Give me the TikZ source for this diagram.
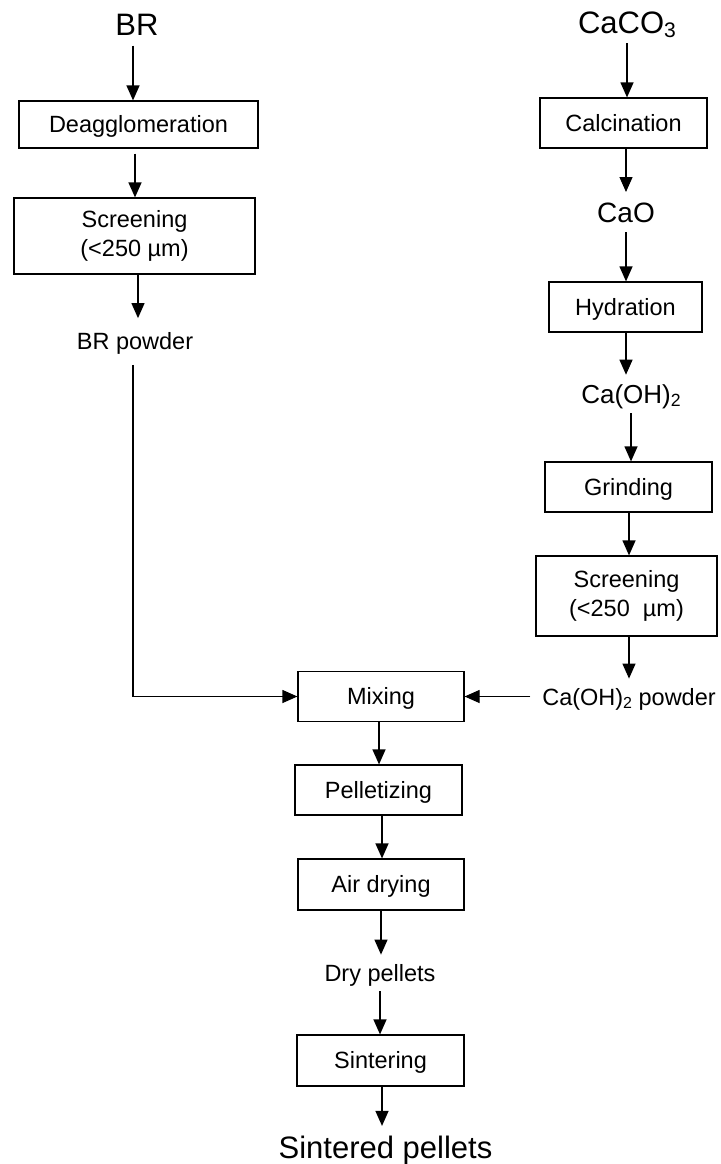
\documentclass[tikz,border=0pt]{standalone}
\usepackage{fontspec}
\setmainfont{Liberation Sans}
\usepackage{graphicx}
\usetikzlibrary{arrows.meta}
\newcommand\chemsub[1]{\raisebox{-0.13em}{\scalebox{0.68}{#1}}}
\tikzset{
  box/.style={draw, line width=1.2pt, inner sep=0pt, align=center,
    font=\fontsize{23.5}{28.5}\selectfont},
  onel/.style={text height=16.8pt, text depth=0pt},
  lbl/.style={inner sep=0pt, text height=16.8pt, text depth=0pt,
    outer ysep=10pt, font=\fontsize{23.5}{28}\selectfont},
  biglbl/.style={lbl, text height=22.2pt, font=\fontsize{31}{36}\selectfont},
  arr/.style={-{Triangle[width=13pt,length=15pt]}, line width=1.2pt},
}
\begin{document}
\begin{tikzpicture}[x=1pt,y=-1pt]
\useasboundingbox (0,0) rectangle (720,1164);
% left column
\node[biglbl] (br) at (137,24.5) {BR};
\node[box,onel,minimum width=239pt,minimum height=47pt] (deagg) at (138.5,124.5) {Deagglomeration};
\node[box,minimum width=241pt,minimum height=76pt] (scr1) at (134.5,236) {Screening\\(<250 µm)};
\node[lbl,outer ysep=15pt] (brp) at (135,341.5) {BR powder};
% right column
\node[biglbl] (caco3) at (627,22) {CaCO\chemsub{3}};
\node[box,onel,minimum width=167pt,minimum height=50pt] (calc) at (623.5,123) {Calcination};
\node[lbl,text height=20pt,font=\fontsize{28}{32}\selectfont] (cao) at (626,212) {CaO};
\node[box,onel,minimum width=153pt,minimum height=50pt] (hyd) at (625.5,307) {Hydration};
\node[lbl,text height=18.6pt,font=\fontsize{26}{30}\selectfont] (caoh) at (631,394) {Ca(OH)\chemsub{2}};
\node[box,onel,minimum width=167pt,minimum height=50pt] (grind) at (628.5,487) {Grinding};
\node[box,minimum width=181pt,minimum height=80pt] (scr2) at (626.5,596) {Screening\\(<250\ \ µm)};
\node[lbl,outer xsep=12pt] (caohp) at (629,697) {Ca(OH)\chemsub{2} powder};
% middle column
\node[box,onel,minimum width=166pt,minimum height=50pt] (mix) at (381,696.5) {Mixing};
\node[box,onel,minimum width=167pt,minimum height=50pt] (pell) at (378.5,790) {Pelletizing};
\node[box,onel,minimum width=166pt,minimum height=51pt] (dry) at (381,884.5) {Air drying};
\node[lbl] (dryp) at (380,973) {Dry pellets};
\node[box,onel,minimum width=167pt,minimum height=51pt] (sint) at (380.5,1060.5) {Sintering};
\node[biglbl] (sintp) at (385.5,1147) {Sintered pellets};
% connectors
\draw[arr] ([xshift=-4pt]br.south) -- ([xshift=-4pt]br.south |- deagg.north);
\draw[arr] ([xshift=-3.5pt,yshift=-5pt]deagg.south) -- ([xshift=-3.5pt]deagg.south |- scr1.north);
\draw[arr] ([xshift=3.5pt]scr1.south) -- ([xshift=3.5pt]scr1.south |- brp.north);
\draw[arr] ([xshift=-2pt]brp.south) |- (mix.west);
\draw[arr] (caco3.south) -- (caco3.south |- calc.north);
\draw[arr] ([xshift=2.5pt]calc.south) -- ([xshift=2.5pt]calc.south |- cao.north);
\draw[arr] (cao.south) -- (cao.south |- hyd.north);
\draw[arr] ([xshift=0.5pt]hyd.south) -- ([xshift=0.5pt]hyd.south |- caoh.north);
\draw[arr] (caoh.south) -- (caoh.south |- grind.north);
\draw[arr] ([xshift=0.5pt]grind.south) -- ([xshift=0.5pt]grind.south |- scr2.north);
\draw[arr] ([xshift=2.5pt]scr2.south) -- ([xshift=2.5pt]scr2.south |- caohp.north);
\draw[arr] (caohp.west |- mix.east) -- (mix.east);
\draw[arr] ([xshift=-2pt]mix.south) -- ([xshift=-2pt]mix.south |- pell.north);
\draw[arr] ([xshift=3.5pt]pell.south) -- ([xshift=3.5pt]pell.south |- dry.north);
\draw[arr] (dry.south) -- (dry.south |- dryp.north);
\draw[arr] (dryp.south) -- (dryp.south |- sint.north);
\draw[arr] ([xshift=1.5pt]sint.south) -- ([xshift=1.5pt]sint.south |- sintp.north);
\end{tikzpicture}
\end{document}
